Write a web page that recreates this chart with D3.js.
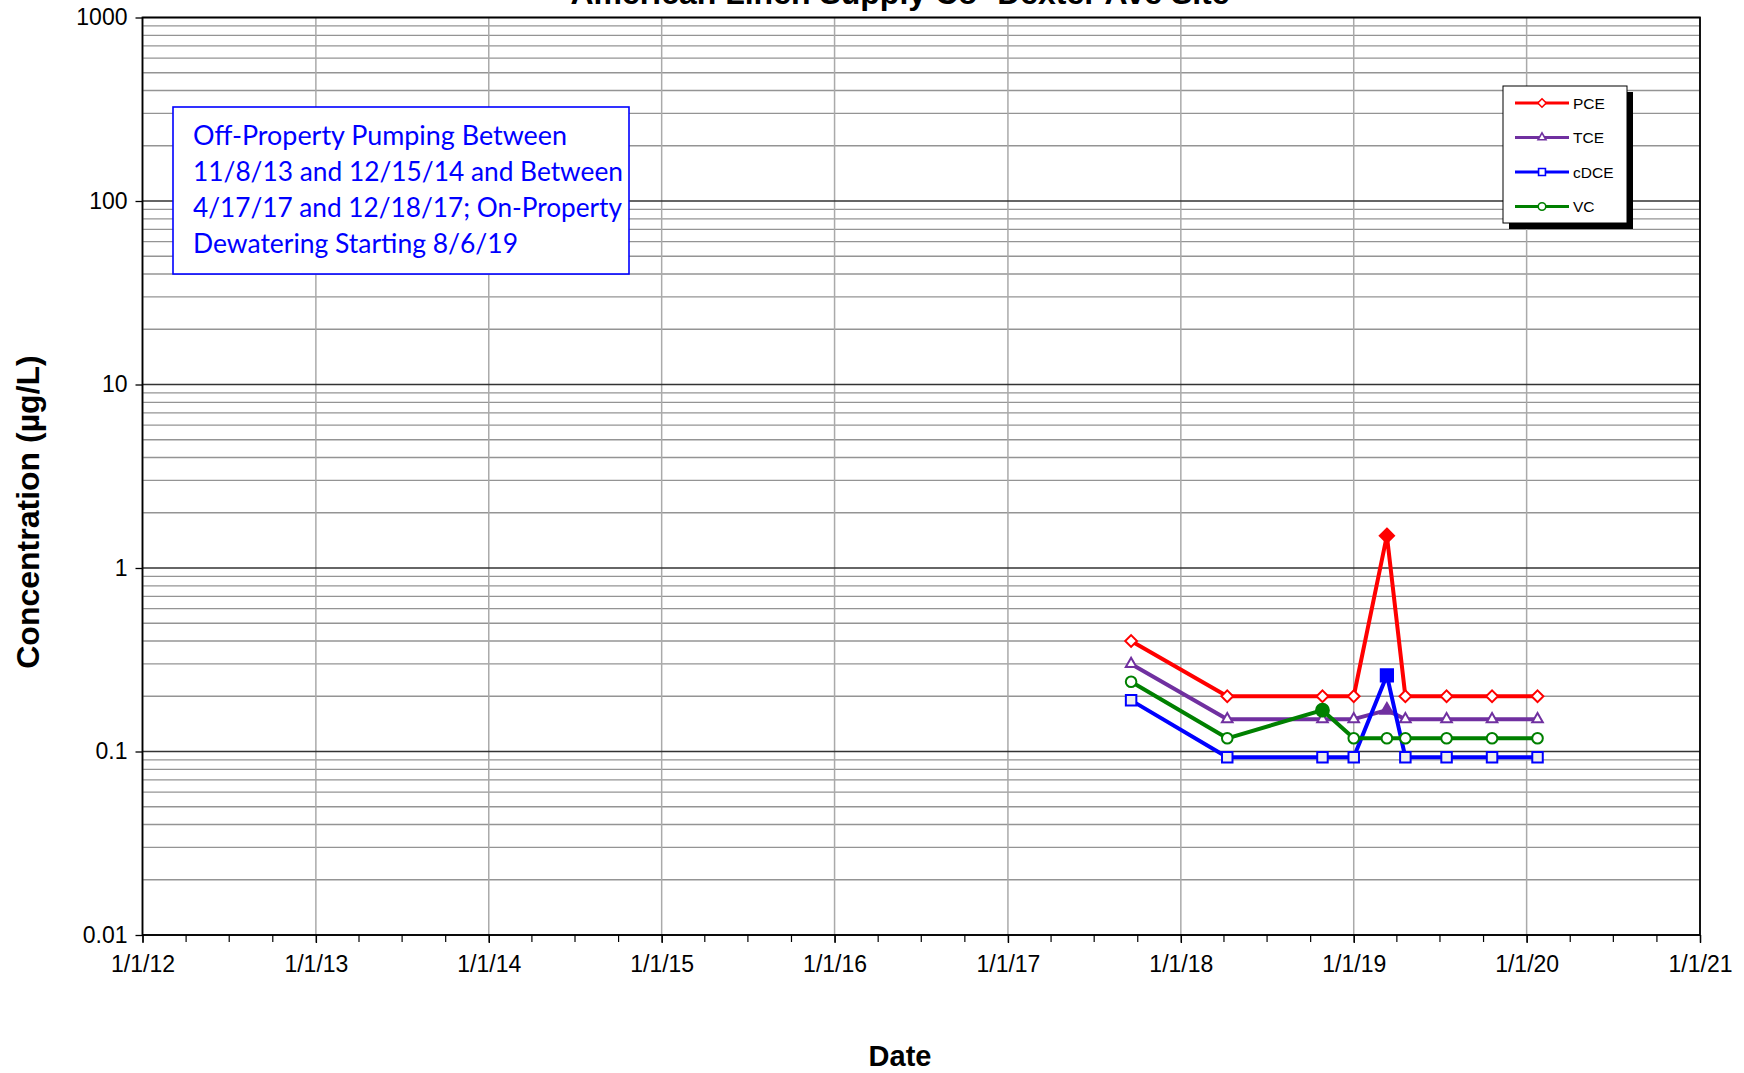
<!DOCTYPE html>
<html>
<head>
<meta charset="utf-8">
<script src="https://cdn.jsdelivr.net/npm/d3@7"></script>
<style>
  body { margin: 0; background: #fff; }
  svg { display: block; }
</style>
</head>
<body>
<svg id="svg1" width="1744" height="1073"></svg>
<script>
// sample dates and results (ug/L), filled flag = detected
var sampleDates = ['2017-09-18', '2018-04-09', '2018-10-27', '2019-01-01', '2019-03-12',
                   '2019-04-20', '2019-07-16', '2019-10-20', '2020-01-24'];
var pceValues  = [0.4, 0.2, 0.2, 0.2, 1.5, 0.2, 0.2, 0.2, 0.2];
var tceValues  = [0.3, 0.15, 0.15, 0.15, 0.168, 0.15, 0.15, 0.15, 0.15];
var cdceValues = [0.19, 0.093, 0.093, 0.093, 0.26, 0.093, 0.093, 0.093, 0.093];
var vcValues   = [0.24, 0.118, 0.168, 0.118, 0.118, 0.118, 0.118, 0.118, 0.118];
var pceDetect  = [0, 0, 0, 0, 1, 0, 0, 0, 0];
var tceDetect  = [0, 0, 0, 0, 1, 0, 0, 0, 0];
var cdceDetect = [0, 0, 0, 0, 1, 0, 0, 0, 0];
var vcDetect   = [0, 0, 1, 0, 0, 0, 0, 0, 0];

var seriesNames = ['PCE', 'TCE', 'cDCE', 'VC'];
var yTickValues = [0.01, 0.1, 1, 10, 100, 1000];
var yTickLabels = ['0.01', '0.1', '1', '10', '100', '1000'];
var xTickLabels = ['1/1/12', '1/1/13', '1/1/14', '1/1/15', '1/1/16', '1/1/17', '1/1/18', '1/1/19', '1/1/20', '1/1/21'];
var noteLines = ['Off-Property Pumping Between',
                 '11/8/13 and 12/15/14 and Between',
                 '4/17/17 and 12/18/17; On-Property',
                 'Dewatering Starting 8/6/19'];

var parseDate = d3.timeParse('%Y-%m-%d');

var plotLeft = 142.5, plotRight = 1700, plotTop = 17.5, plotBottom = 935;

var svg = d3.select('svg');

var x = d3.scaleTime()
    .domain([new Date(2012, 0, 1), new Date(2021, 0, 1)])
    .range([plotLeft, plotRight]);

var y = d3.scaleLog()
    .domain([0.01, 1000])
    .range([plotBottom, plotTop]);

//horizontal gridlines, minor then major
var minorY = [];
yTickValues.slice(0, -1).forEach(function(d) {
    for (var k = 2; k <= 9; k++) minorY.push(d * k);
});

svg.append('g').selectAll('line')
    .data(minorY)
    .enter()
    .append('line')
    .attr('x1', plotLeft).attr('x2', plotRight)
    .attr('y1', function(d) { return y(d); })
    .attr('y2', function(d) { return y(d); })
    .attr('stroke', '#949494')
    .attr('stroke-width', 1.3);

// vertical year lines
var years = x.ticks(d3.timeYear.every(1));
svg.append('g').selectAll('line')
    .data(years)
    .enter()
    .append('line')
    .attr('x1', function(d) { return x(d); })
    .attr('x2', function(d) { return x(d); })
    .attr('y1', plotTop).attr('y2', plotBottom)
    .attr('stroke', '#aaaaaa')
    .attr('stroke-width', 1.5);

svg.append('g').selectAll('line')
    .data(yTickValues)
    .enter()
    .append('line')
    .attr('x1', plotLeft).attr('x2', plotRight)
    .attr('y1', function(d) { return y(d); })
    .attr('y2', function(d) { return y(d); })
    .attr('stroke', '#333')
    .attr('stroke-width', 1.4);

// axes
var yAxis = d3.axisLeft(y)
    .tickValues(yTickValues)
    .tickFormat(function(d, i) { return yTickLabels[i]; })
    .tickSizeInner(7)
    .tickSizeOuter(0)
    .tickPadding(8);

svg.append('g')
    .attr('transform', 'translate(' + plotLeft + ',0)')
    .call(yAxis)
    .call(function(g) {
        g.select('.domain').remove();
        g.selectAll('line').attr('stroke', '#000').attr('stroke-width', 1.3);
        g.selectAll('text').attr('font-family', 'Liberation Sans, Arial, sans-serif')
            .attr('font-size', 23).attr('fill', '#000');
    });

var xMinor = d3.axisBottom(x)
    .ticks(d3.timeMonth.every(3))
    .tickFormat('')
    .tickSizeInner(7)
    .tickSizeOuter(0);

svg.append('g')
    .attr('transform', 'translate(0,' + plotBottom + ')')
    .call(xMinor)
    .call(function(g) {
        g.select('.domain').remove();
        g.selectAll('line').attr('stroke', '#000').attr('stroke-width', 1.2);
    });

var xAxis = d3.axisBottom(x)
    .tickValues(years)
    .tickFormat(function(d, i) { return xTickLabels[i]; })
    .tickSizeInner(8)
    .tickSizeOuter(0)
    .tickPadding(13);

svg.append('g')
    .attr('transform', 'translate(0,' + plotBottom + ')')
    .call(xAxis)
    .call(function(g) {
        g.select('.domain').remove();
        g.selectAll('line').attr('stroke', '#000').attr('stroke-width', 1.4);
        g.selectAll('text').attr('font-family', 'Liberation Sans, Arial, sans-serif')
            .attr('font-size', 23).attr('fill', '#000');
    });

// plot frame
svg.append('rect')
    .attr('x', plotLeft).attr('y', plotTop)
    .attr('width', plotRight - plotLeft).attr('height', plotBottom - plotTop)
    .attr('fill', 'none')
    .attr('stroke', '#000')
    .attr('stroke-width', 1.8);

// series
var series = [
    {name: 'PCE',  values: pceValues,  detect: pceDetect,  color: '#ff0000', shape: d3.symbolDiamond2, fill: '#fff'},
    {name: 'TCE',  values: tceValues,  detect: tceDetect,  color: '#7030a0', shape: d3.symbolTriangle2, fill: '#fff'},
    {name: 'cDCE', values: cdceValues, detect: cdceDetect, color: '#0000ff', shape: d3.symbolSquare2, fill: '#eeeeee'},
    {name: 'VC',   values: vcValues,   detect: vcDetect,   color: '#008000', shape: d3.symbolCircle, fill: '#fff'}
];

function markerSize(shape, detect) {
    if (shape === d3.symbolSquare2) return detect ? 190 : 140;
    if (shape === d3.symbolTriangle2) return detect ? 110 : 80;
    return detect ? 130 : 88;
}

var line = d3.line()
    .x(function(d) { return x(d.date); })
    .y(function(d) { return y(d.value); });

series.forEach(function(s) {
    var pts = sampleDates.map(function(dt, i) {
        return {date: parseDate(dt), value: s.values[i], detect: s.detect[i]};
    });

    var g = svg.append('g').attr('class', 'series');

    g.append('path')
        .datum(pts)
        .attr('d', line)
        .attr('fill', 'none')
        .attr('stroke', s.color)
        .attr('stroke-width', 4)
        .attr('stroke-linejoin', 'round');

    g.selectAll('.marker')
        .data(pts)
        .enter()
        .append('path')
        .attr('class', 'marker')
        .attr('d', function(d) { return d3.symbol().type(s.shape).size(markerSize(s.shape, d.detect))(); })
        .attr('transform', function(d) {
            return 'translate(' + x(d.date) + ',' + y(d.value) + ')';
        })
        .attr('fill', function(d) { return d.detect ? s.color : s.fill; })
        .attr('stroke', s.color)
        .attr('stroke-width', 2);
});

// legend
var lx = 1503, ly = 86, lw = 124, lh = 137;
svg.append('rect')
    .attr('x', lx + 6).attr('y', ly + 6)
    .attr('width', lw).attr('height', lh)
    .attr('fill', '#000');
svg.append('rect')
    .attr('x', lx).attr('y', ly)
    .attr('width', lw).attr('height', lh)
    .attr('fill', '#fff')
    .attr('stroke', '#000')
    .attr('stroke-width', 1);

var legendItem = svg.selectAll('.legendItem')
    .data(series)
    .enter()
    .append('g')
    .attr('class', 'legendItem')
    .attr('transform', function(d, i) { return 'translate(' + lx + ',' + (ly + 17 + i * 34.5) + ')'; });

legendItem.append('line')
    .attr('x1', 12).attr('x2', 66)
    .attr('stroke', function(d) { return d.color; })
    .attr('stroke-width', 3);

legendItem.append('path')
    .attr('d', function(d) { return d3.symbol().type(d.shape).size(d.shape === d3.symbolSquare2 ? 60 : 45)(); })
    .attr('transform', 'translate(39,0)')
    .attr('fill', '#fff')
    .attr('stroke', function(d) { return d.color; })
    .attr('stroke-width', 1.6);

legendItem.append('text')
    .attr('x', 70)
    .attr('dy', '0.36em')
    .attr('font-family', 'Liberation Sans, Arial, sans-serif')
    .attr('font-size', 15.5)
    .text(function(d) { return d.name; });

// note box
svg.append('rect')
    .attr('x', 173).attr('y', 107)
    .attr('width', 456).attr('height', 167)
    .attr('fill', '#fff')
    .attr('stroke', '#0000ff')
    .attr('stroke-width', 1.6);

var noteWidths = [374, 430, 429, 325];
svg.append('g').selectAll('text')
    .data(noteLines)
    .enter()
    .append('text')
    .attr('x', 193)
    .attr('y', function(d, i) { return 145 + i * 36; })
    .attr('font-family', 'Lato, Open Sans, sans-serif')
    .attr('font-size', 26)
    .attr('fill', '#0000ff')
    .attr('textLength', function(d, i) { return noteWidths[i]; })
    .attr('lengthAdjust', 'spacingAndGlyphs')
    .text(function(d) { return d; });

// titles
svg.append('text')
    .attr('x', 900).attr('y', 4)
    .attr('text-anchor', 'middle')
    .attr('font-family', 'Liberation Sans, Arial, sans-serif')
    .attr('font-weight', 'bold')
    .attr('font-size', 32)
    .text('American Linen Supply Co- Dexter Ave Site');

svg.append('text')
    .attr('x', 900).attr('y', 1066)
    .attr('text-anchor', 'middle')
    .attr('font-family', 'Liberation Sans, Arial, sans-serif')
    .attr('font-weight', 'bold')
    .attr('font-size', 29)
    .text('Date');

svg.append('text')
    .attr('transform', 'translate(39,512) rotate(-90)')
    .attr('text-anchor', 'middle')
    .attr('font-family', 'Liberation Sans, Arial, sans-serif')
    .attr('font-weight', 'bold')
    .attr('font-size', 32)
    .text('Concentration (\u00b5g/L)');
</script>
</body>
</html>
